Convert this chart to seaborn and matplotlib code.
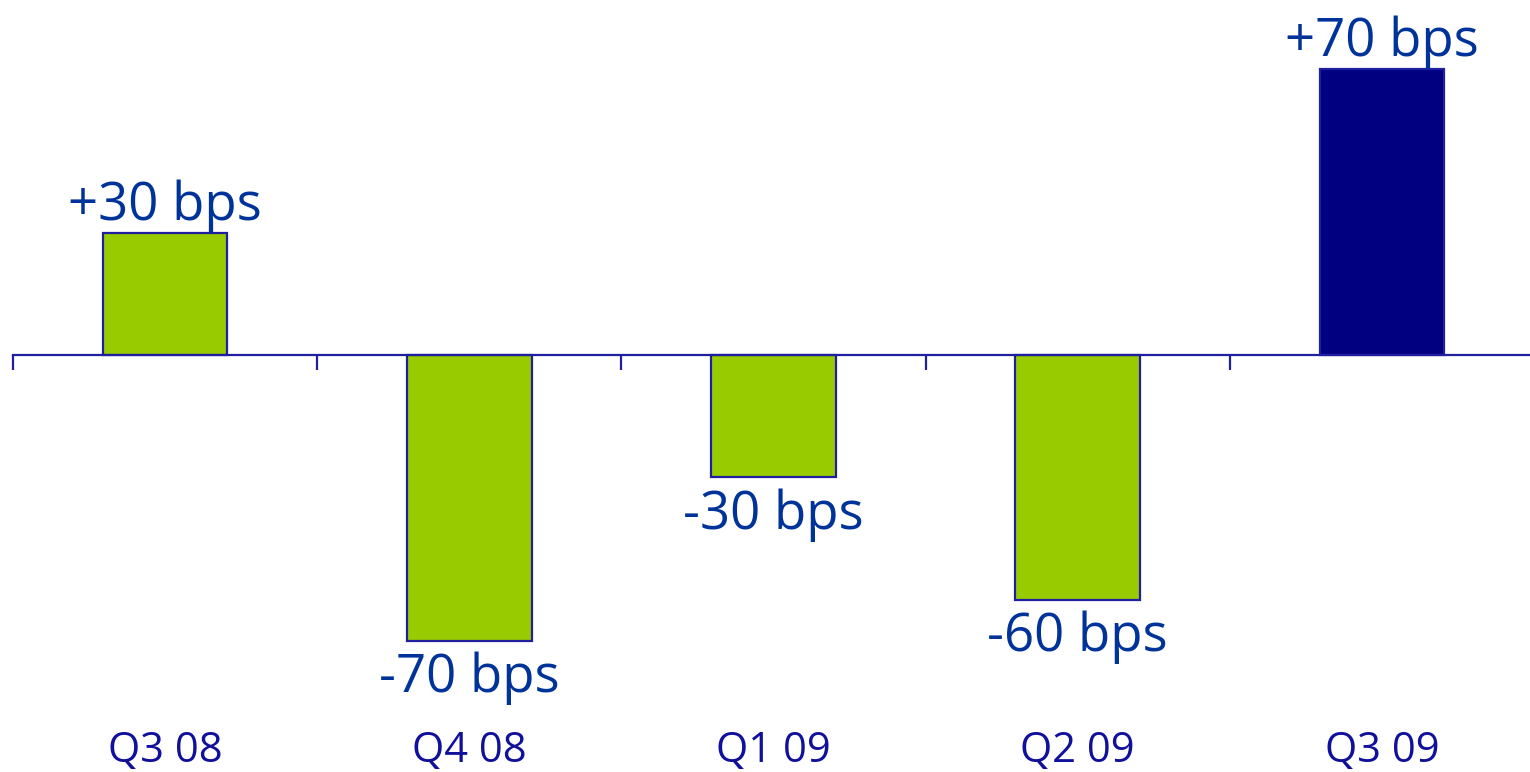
import matplotlib
matplotlib.use('Agg')
import matplotlib.pyplot as plt
import seaborn as sns

# quarterly change, basis points
quarters = ['Q3 08', 'Q4 08', 'Q1 09', 'Q2 09', 'Q3 09']
values = [30, -70, -30, -60, 70]
labels = ['+30 bps', '-70 bps', '-30 bps', '-60 bps', '+70 bps']
bar_colors = ['#99cc00', '#99cc00', '#99cc00', '#99cc00', '#000080']

sns.set_style('white')
plt.rcParams['font.family'] = ['Open Sans', 'DejaVu Sans']

fig = plt.figure(figsize=(15.3, 7.72), dpi=100)
ax = fig.add_axes([13 / 1530, 0, 1521 / 1530, 1])

sns.barplot(x=quarters, y=values, hue=quarters, palette=bar_colors,
            legend=False, width=0.41, edgecolor='#1f1f9f', linewidth=1.6,
            saturation=1, ax=ax)

ax.set_xlim(-0.5, 4.5)
ax.set_ylim(-102.2, 87)

for c, lab, v in zip(ax.containers, labels, values):
    pad = 0 if v > 0 else 8
    ax.bar_label(c, labels=[lab], padding=pad, fontsize=38, color='#003399')

# axis line through zero, ticks between categories
for s in ['top', 'right', 'left']:
    ax.spines[s].set_visible(False)
ax.spines['bottom'].set_position(('data', 0))
ax.spines['bottom'].set_color('#1f1f9f')
ax.spines['bottom'].set_linewidth(1.6)
ax.set_xticks([-0.5, 0.5, 1.5, 2.5, 3.5])
ax.set_xticklabels([])
ax.tick_params(axis='x', direction='out', length=11, width=1.6,
               color='#1f1f9f', bottom=True)
ax.set_yticks([])
ax.set_xlabel('')
ax.set_ylabel('')

for i, q in enumerate(quarters):
    ax.text(i, 0.027, q, transform=ax.get_xaxis_transform(),
            ha='center', va='center', fontsize=30, color='#10109a')

fig.savefig('out.png', dpi=100)
